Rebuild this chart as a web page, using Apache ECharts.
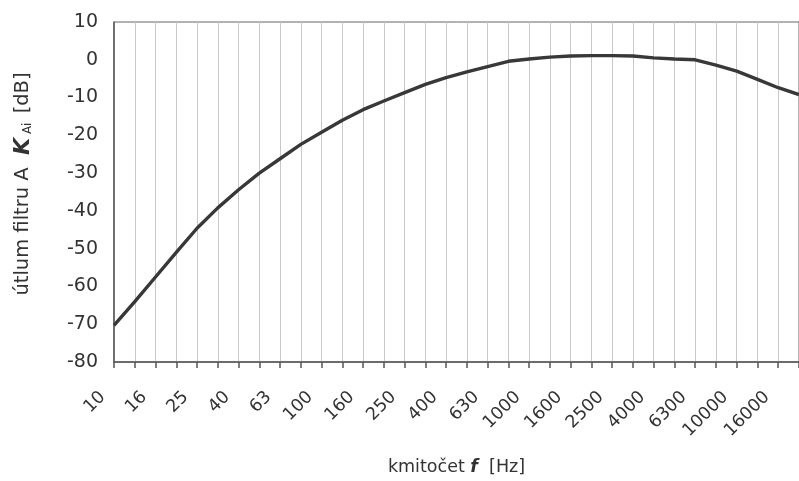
<!DOCTYPE html>
<html>
<head>
<meta charset="utf-8">
<script src="https://cdn.jsdelivr.net/npm/echarts@6/dist/echarts.min.js"></script>
<style>
  html, body { margin: 0; padding: 0; background: #fff; }
  #chart { width: 799px; height: 481px; }
</style>
</head>
<body>
<div id="chart"></div>
<script>
// Third-octave band centre frequencies [Hz]
const frequencies = ['10', '12.5', '16', '20', '25', '31.5', '40', '50', '63', '80',
  '100', '125', '160', '200', '250', '315', '400', '500', '630', '800',
  '1000', '1250', '1600', '2000', '2500', '3150', '4000', '5000', '6300', '8000',
  '10000', '12500', '16000', '20000'];

// A-filter attenuation K_Ai [dB] for each band
const attenuation = [-70.3, -64.0, -57.5, -51.0, -44.6, -39.2, -34.4, -30.0, -26.2, -22.4,
  -19.2, -16.0, -13.2, -10.9, -8.7, -6.5, -4.7, -3.2, -1.8, -0.4,
  0.2, 0.7, 1.0, 1.1, 1.1, 1.0, 0.5, 0.2, 0.0, -1.4,
  -3.0, -5.2, -7.4, -9.2];

// Attenuation axis range
const yMin = -80, yMax = 10, yStep = 10;

const FONT = 'DejaVu Sans';
const TEXT = '#333';

const chart = echarts.init(document.getElementById('chart'), null, { renderer: 'canvas' });

chart.setOption({
  animation: false,
  backgroundColor: '#fff',
  grid: {
    left: 114, top: 22, width: 695, height: 341,
    show: true, borderColor: '#666', borderWidth: 1
  },
  xAxis: {
    type: 'category',
    data: frequencies,
    boundaryGap: false,
    name: 'kmitočet {f|f}  [Hz]',
    nameLocation: 'middle',
    nameGap: 96,
    nameTextStyle: {
      fontFamily: FONT, fontSize: 17.5, color: TEXT,
      rich: {
        f: { fontFamily: FONT, fontSize: 17.5, fontWeight: 'bold', fontStyle: 'italic', color: TEXT }
      }
    },
    axisLine: { onZero: false, lineStyle: { color: '#555', width: 1.5 } },
    axisTick: { show: true, interval: 0, length: 6, inside: false, lineStyle: { color: '#555', width: 1.5 } },
    axisLabel: {
      interval: 1, rotate: 45, margin: 21,
      padding: [0, 16, 0, 0],
      fontFamily: FONT, fontSize: 17.5, color: TEXT
    },
    splitLine: { show: true, interval: 0, lineStyle: { color: '#c8c8c8', width: 1 } }
  },
  yAxis: {
    type: 'value',
    min: yMin, max: yMax, interval: yStep,
    name: 'útlum filtru A  {k|K}{s| Ai} [dB]',
    nameLocation: 'middle',
    nameRotate: 90,
    nameGap: 80,
    nameTextStyle: {
      fontFamily: FONT, fontSize: 19.5, color: TEXT,
      padding: [0, 0, 0, 16],
      rich: {
        k: { fontFamily: FONT, fontSize: 22, fontWeight: 'bold', fontStyle: 'italic', color: TEXT },
        s: { fontFamily: FONT, fontSize: 12, color: TEXT, verticalAlign: 'bottom', padding: [7, 3, 0, 0] }
      }
    },
    axisLine: { show: true, lineStyle: { color: '#555', width: 1.5 } },
    axisTick: { show: false },
    axisLabel: { margin: 16, fontFamily: FONT, fontSize: 19, color: TEXT },
    splitLine: { show: false }
  },
  series: [{
    type: 'line',
    data: attenuation,
    symbol: 'none',
    smooth: false,
    lineStyle: { color: '#383838', width: 3.4 }
  }]
});
</script>
</body>
</html>
